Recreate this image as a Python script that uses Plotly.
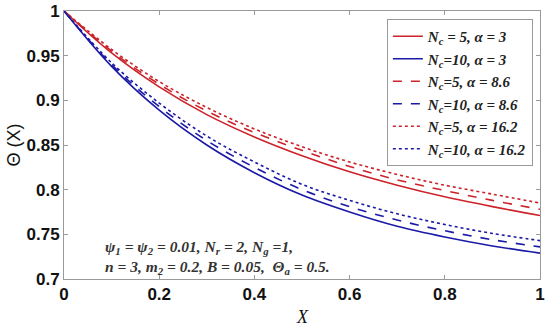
import plotly.graph_objects as go

X = [0.0, 0.1, 0.2, 0.3, 0.4, 0.5, 0.6, 0.7, 0.8, 0.9, 1.0]

red_a3 = [1.0, 0.953, 0.915, 0.884, 0.859, 0.838, 0.820, 0.805, 0.792, 0.781, 0.771]
red_a86 = [1.0, 0.955, 0.918, 0.888, 0.864, 0.844, 0.826, 0.811, 0.799, 0.788, 0.778]
red_a162 = [1.0, 0.957, 0.921, 0.892, 0.868, 0.848, 0.831, 0.817, 0.805, 0.795, 0.785]
blue_a3 = [1.0, 0.938, 0.889, 0.850, 0.819, 0.794, 0.775, 0.759, 0.747, 0.737, 0.729]
blue_a86 = [1.0, 0.940, 0.893, 0.855, 0.825, 0.800, 0.781, 0.766, 0.754, 0.744, 0.736]
blue_a162 = [1.0, 0.942, 0.897, 0.860, 0.831, 0.806, 0.788, 0.773, 0.761, 0.751, 0.743]

x_ticks = [0, 0.2, 0.4, 0.6, 0.8, 1]
x_tick_labels = ["0", "0.2", "0.4", "0.6", "0.8", "1"]
y_ticks = [0.7, 0.75, 0.8, 0.85, 0.9, 0.95, 1]
y_tick_labels = ["0.7", "0.75", "0.8", "0.85", "0.9", "0.95", "1"]

names = [
    "N<sub>c</sub> = 5, α = 3",
    "N<sub>c</sub>=10, α = 3",
    "N<sub>c</sub>=5, α = 8.6",
    "N<sub>c</sub>=10, α = 8.6",
    "N<sub>c</sub>=5, α = 16.2",
    "N<sub>c</sub>=10, α = 16.2",
]
series = [red_a3, blue_a3, red_a86, blue_a86, red_a162, blue_a162]
RED = "#cc2229"
BLUE = "#1a1aa6"
colors = [RED, BLUE, RED, BLUE, RED, BLUE]
dashes = ["solid", "solid", "dash", "dash", "dot", "dot"]

fig = go.Figure()
for nm, ys, c, d in zip(names, series, colors, dashes):
    fig.add_trace(go.Scatter(
        x=X, y=ys, mode="lines", name="<b><i>" + nm + "</i></b>",
        line=dict(color=c, dash=d, width=1.6, shape="spline", smoothing=1.0),
    ))

axis_common = dict(
    showline=True, linecolor="#9a9a9a", linewidth=1, mirror="ticks",
    ticks="inside", ticklen=4, tickcolor="#9a9a9a", showgrid=False, zeroline=False,
    automargin=False, ticklabeloverflow="allow",
    tickfont=dict(family="Liberation Sans, Arial", size=17, color="#111"),
)

fig.update_xaxes(range=[0, 1], tickvals=x_ticks,
                 ticktext=["<b>%s</b>" % t for t in x_tick_labels], **axis_common)
fig.update_yaxes(range=[0.7, 1], tickvals=y_ticks,
                 ticktext=["<b>%s</b>" % t for t in y_tick_labels], **axis_common)

# axis titles
fig.add_annotation(xref="paper", yref="paper", x=0.5, y=-0.142, xanchor="center", yanchor="middle",
                   showarrow=False, text="<i>X</i>",
                   font=dict(family="Liberation Serif", size=18, color="#111"))
fig.add_annotation(xref="paper", yref="paper", x=-0.106, y=0.5, xanchor="center", yanchor="middle",
                   showarrow=False, text="Θ (X)", textangle=-90,
                   font=dict(family="Liberation Sans, Arial", size=18, color="#111"))

fig.add_annotation(
    xref="paper", yref="paper", x=0.081, y=0.08, xanchor="left", yanchor="middle",
    align="left", showarrow=False,
    text="<b><i>ψ<sub>1</sub> = ψ<sub>2</sub> = 0.01, N<sub>r</sub> = 2, N<sub>g</sub> =1,<br>"
         "n = 3, m<sub>2</sub> = 0.2, B = 0.05,  Θ<sub>a</sub> = 0.5.</i></b>",
    font=dict(family="Liberation Serif", size=15.5, color="#333"),
)

fig.update_layout(
    width=550, height=329,
    margin=dict(l=64, r=10, t=11, b=50),
    paper_bgcolor="white", plot_bgcolor="white",
    legend=dict(x=0.985, y=0.97, xanchor="right", yanchor="top",
                bordercolor="#9a9a9a", borderwidth=1, bgcolor="white",
                font=dict(family="Liberation Serif", size=15, color="#222"),
                tracegroupgap=0, itemwidth=30),
    showlegend=True,
)

fig.write_html("out.html", config={"displayModeBar": False},
               post_script="document.body.style.margin='0';")
